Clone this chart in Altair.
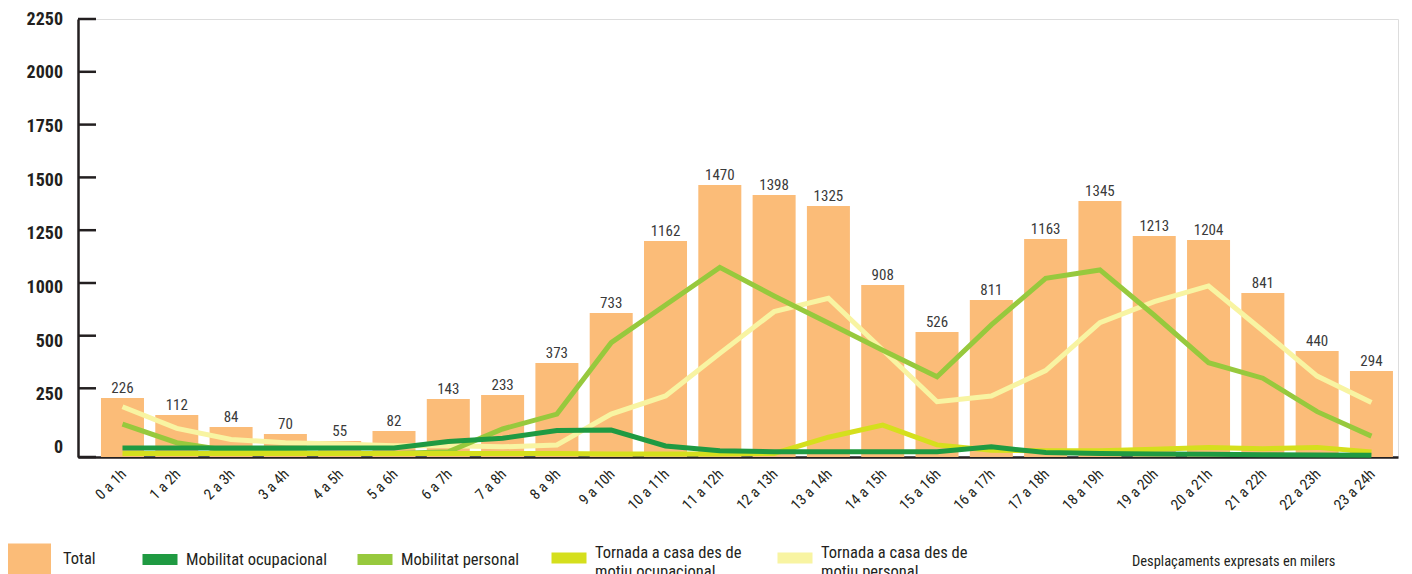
import altair as alt
import pandas as pd

# ---------------- data ----------------
hours = ["0 a 1h", "1 a 2h", "2 a 3h", "3 a 4h", "4 a 5h", "5 a 6h", "6 a 7h", "7 a 8h",
         "8 a 9h", "9 a 10h", "10 a 11h", "11 a 12h", "12 a 13h", "13 a 14h", "14 a 15h",
         "15 a 16h", "16 a 17h", "17 a 18h", "18 a 19h", "19 a 20h", "20 a 21h", "21 a 22h",
         "22 a 23h", "23 a 24h"]

# printed value labels above the bars
total_labels = [226, 112, 84, 70, 55, 82, 143, 233, 373, 733, 1162, 1470, 1398, 1325, 908,
                526, 811, 1163, 1345, 1213, 1204, 841, 440, 294]
# bar heights as read against the (broken) axis
total_bar = [215, 153, 109, 84, 58, 95, 211, 226, 370, 715, 1199, 1464, 1417, 1365, 981,
             535, 839, 1208, 1388, 1223, 1204, 905, 427, 332]

mob_ocup = [33, 33, 33, 33, 33, 33, 56, 68, 96, 98, 40, 23, 19, 19, 19, 19, 37, 16, 13, 11,
            10, 8, 7, 6]
mob_pers = [120, 52, 22, 16, 13, 13, 19, 102, 156, 467, 791, 1074, 877, 620, 431, 305, 602,
            1022, 1062, 694, 372, 298, 165, 76]
torn_ocup = [13, 13, 13, 13, 13, 13, 13, 13, 13, 11, 11, 11, 13, 72, 116, 44, 25, 23, 23, 28,
             35, 30, 35, 18]
torn_pers = [183, 104, 64, 52, 47, 41, 41, 37, 44, 156, 222, 416, 728, 855, 432, 201, 222, 334,
             623, 823, 972, 547, 308, 198]

y_ticks = [0, 250, 500, 1000, 1250, 1500, 1750, 2000, 2250]

series_names = ["Mobilitat ocupacional", "Mobilitat personal",
                "Tornada a casa des de motiu ocupacional",
                "Tornada a casa des de motiu personal"]
series_colors = ["#1f9a42", "#97c93d", "#d5df1d", "#f8f4a2"]
series_values = [mob_ocup, mob_pers, torn_ocup, torn_pers]
legend_x = [59, 274, 468, 694]          # legend placement (relative to plot origin)
draw_order = [3, 1, 2, 0]              # pale, mid green, yellow-green, dark green on top

note = "Desplaçaments expresats en milers"

# ---------------- tables ----------------
bars_df = pd.DataFrame({"hora": hours, "valor": total_bar, "etiqueta": total_labels,
                        "serie": "Total"})
rows = []
for name, vals in zip(series_names, series_values):
    for h, v in zip(hours, vals):
        rows.append({"hora": h, "valor": v, "serie": name})
lines_df = pd.DataFrame(rows)
ticks_df = pd.DataFrame({"v": y_ticks})

FONT = "Liberation Sans Narrow, Roboto Condensed, DejaVu Sans Condensed, Arial Narrow, sans-serif"
AX = "#231f20"


def ys():
    # broken (piecewise) value axis, as drawn in the original
    return alt.Scale(domain=[0, 250, 500, 1000, 2250], range=[438, 369.3, 316.7, 264, 0],
                     nice=False, zero=False)


# the printed tick labels sit on an evenly spaced grid of their own
label_scale = alt.Scale(domain=[0, 250, 500, 1000, 2250], range=[429, 376, 323, 269, 0.7],
                        nice=False, zero=False)

xscale = alt.Scale(domain=hours, paddingInner=0.208, paddingOuter=0.258, align=0.82)

x_enc = alt.X("hora:N", scale=xscale, sort=hours,
              axis=alt.Axis(title=None, labelAngle=-45, labelAlign="right",
                            labelBaseline="middle", labelPadding=14, labelOffset=1,
                            labelFontSize=15, labelFont=FONT, labelColor=AX,
                            ticks=False, domainColor=AX, domainWidth=2.5))

bars = alt.Chart(bars_df).mark_bar().encode(
    x=x_enc,
    y=alt.Y("valor:Q", scale=ys(),
            axis=alt.Axis(title=None, values=y_ticks, labels=False, ticks=False, grid=False,
                          domainColor=AX, domainWidth=2.5)),
    fill=alt.Fill("serie:N", scale=alt.Scale(domain=["Total"], range=["#fbbc78"]),
                  legend=alt.Legend(title=None, orient="none", legendX=-72, legendY=517.5,
                                    padding=0, symbolType="M-1,-0.689H1V0.689H-1Z",
                                    symbolSize=2025, symbolStrokeWidth=0,
                                    labelFontSize=16.5, labelFont=FONT, labelColor=AX,
                                    labelFontWeight="normal", labelOffset=12)),
)

labels = alt.Chart(bars_df).mark_text(dy=-5, baseline="alphabetic", fontSize=15, font=FONT,
                                      color="#3a3a3a").encode(
    x=alt.X("hora:N", scale=xscale, sort=hours),
    y=alt.Y("valor:Q", scale=ys(), axis=None),
    text="etiqueta:Q",
)

ticks = alt.Chart(ticks_df).mark_rule(color=AX, strokeWidth=2.5).encode(
    y=alt.Y("v:Q", scale=ys(), axis=None),
    x=alt.value(0),
    x2=alt.value(18),
)

tick_labels = alt.Chart(ticks_df).mark_text(
    align="right", baseline="middle", fontSize=18, fontWeight="bold", font=FONT, color=AX
).encode(
    y=alt.Y("v:Q", scale=label_scale, axis=None),
    x=alt.value(-15),
    text=alt.Text("v:Q", format="d"),
)

label_expr = ("indexof(datum.label, ' motiu') > 0 ? "
              "[substring(datum.label, 0, indexof(datum.label, ' motiu')), "
              "substring(datum.label, indexof(datum.label, ' motiu') + 1)] : datum.label")

line_layers = []
for idx in draw_order:
    name = series_names[idx]
    two_lines = " motiu" in name
    leg = alt.Legend(title=None, orient="none", legendX=legend_x[idx],
                     legendY=516 if two_lines else 517.5, padding=0,
                     symbolType="M-1,0H1", symbolSize=1225, symbolStrokeWidth=11,
                     labelFontSize=16.5, labelFont=FONT, labelColor=AX,
                     labelFontWeight="normal", labelOffset=3, labelLimit=400,
                     labelBaseline="alphabetic" if two_lines else "middle",
                     labelExpr=label_expr)
    line_layers.append(
        alt.Chart(lines_df).transform_filter(alt.datum.serie == name)
        .mark_line(strokeWidth=5, strokeJoin="miter")
        .encode(x=alt.X("hora:N", scale=xscale, sort=hours),
                y=alt.Y("valor:Q", scale=ys(), axis=None),
                stroke=alt.Stroke("serie:N",
                                  scale=alt.Scale(domain=[name],
                                                  range=[series_colors[idx]]),
                                  legend=leg))
    )

note_layer = alt.Chart(pd.DataFrame({"t": [note]})).mark_text(
    align="left", baseline="middle", fontSize=14.5, font=FONT, color=AX).encode(
    x=alt.value(1054), y=alt.value(543), text="t:N")

chart = alt.layer(bars, *line_layers, labels, ticks, tick_labels, note_layer).resolve_scale(
    y="independent", fill="independent", stroke="independent"
).properties(
    width=1320, height=438,
    padding={"left": 70, "top": 11, "right": 6, "bottom": 117},
    autosize=alt.AutoSizeParams(type="none"),
).configure_view(stroke=None).configure(background="white")

chart.save("out.html", embed_options={"renderer": "svg", "actions": False})
